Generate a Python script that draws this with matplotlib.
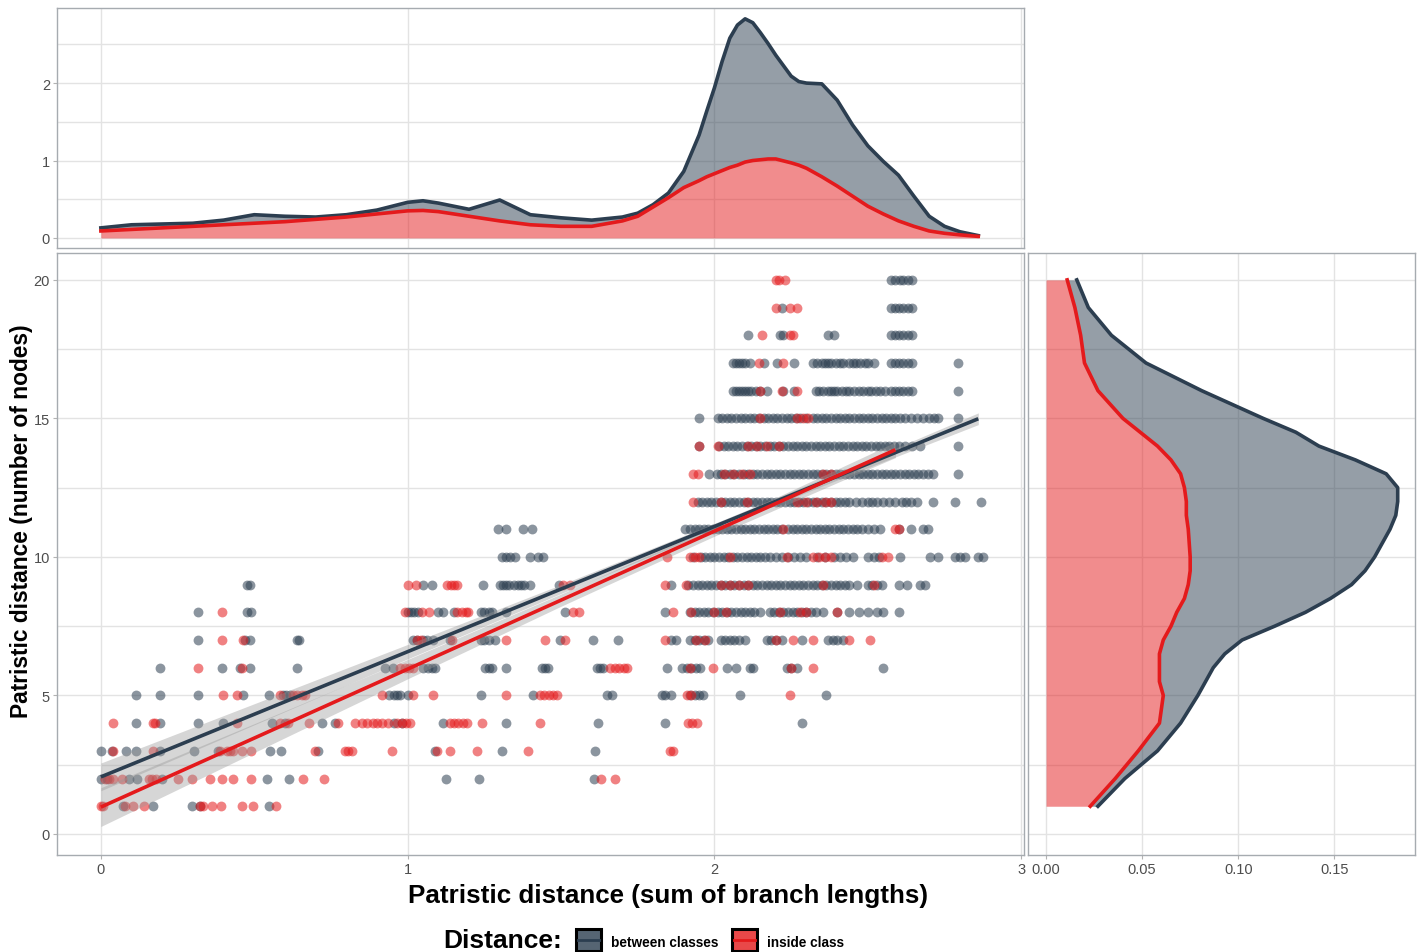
import matplotlib
matplotlib.use("Agg")
import numpy as np
import matplotlib.pyplot as plt
from matplotlib.patches import Rectangle
from matplotlib.lines import Line2D

# ---- scatter points: x values for each integer y (number of nodes) ----
between_rows = {
    20: [2.575, 2.59, 2.605, 2.615, 2.63, 2.645],
    19: [2.22, 2.575, 2.59, 2.60, 2.615, 2.63, 2.645],
    18: [2.11, 2.215, 2.225, 2.37, 2.39, 2.575, 2.59, 2.60, 2.615, 2.63, 2.645],
    17: [2.06, 2.07, 2.08, 2.09, 2.10, 2.115, 2.16, 2.205, 2.26, 2.32, 2.335, 2.35, 2.36, 2.37,
         2.38, 2.395, 2.41, 2.42, 2.44, 2.45, 2.46, 2.475, 2.49, 2.50, 2.52, 2.575, 2.59, 2.60,
         2.615, 2.63, 2.645, 2.795],
    16: [2.06, 2.07, 2.08, 2.09, 2.10, 2.11, 2.12, 2.135, 2.15, 2.17, 2.225, 2.26, 2.33, 2.34,
         2.355, 2.37, 2.38, 2.39, 2.40, 2.415, 2.43, 2.44, 2.455, 2.47, 2.485, 2.50, 2.51, 2.525,
         2.54, 2.555, 2.575, 2.59, 2.60, 2.615, 2.63, 2.645, 2.795],
    15: [1.95, 2.01, 2.025, 2.04, 2.055, 2.07, 2.085, 2.10, 2.115, 2.13, 2.145, 2.16, 2.175, 2.19,
         2.205, 2.22, 2.235, 2.25, 2.265, 2.28, 2.30, 2.32, 2.335, 2.35, 2.365, 2.38, 2.395, 2.41,
         2.425, 2.44, 2.455, 2.47, 2.485, 2.50, 2.515, 2.53, 2.545, 2.56, 2.575, 2.59, 2.605, 2.62,
         2.64, 2.66, 2.68, 2.70, 2.715, 2.73, 2.795],
    14: [1.95, 2.015, 2.03, 2.045, 2.06, 2.075, 2.09, 2.105, 2.12, 2.135, 2.15, 2.165, 2.18, 2.195,
         2.21, 2.225, 2.24, 2.255, 2.27, 2.285, 2.30, 2.315, 2.33, 2.345, 2.36, 2.375, 2.39, 2.405,
         2.42, 2.435, 2.45, 2.465, 2.48, 2.495, 2.51, 2.525, 2.54, 2.555, 2.57, 2.585, 2.60, 2.62,
         2.645, 2.67, 2.795],
    13: [1.982, 2.008, 2.02, 2.035, 2.05, 2.065, 2.08, 2.095, 2.11, 2.125, 2.14, 2.155, 2.17, 2.185,
         2.20, 2.215, 2.23, 2.245, 2.26, 2.275, 2.29, 2.305, 2.32, 2.335, 2.35, 2.365, 2.38, 2.395,
         2.41, 2.425, 2.44, 2.455, 2.47, 2.485, 2.50, 2.515, 2.53, 2.545, 2.56, 2.575, 2.59, 2.605,
         2.62, 2.635, 2.65, 2.665, 2.68, 2.695, 2.713, 2.795],
    12: [1.945, 1.96, 1.975, 1.99, 2.005, 2.02, 2.035, 2.05, 2.065, 2.08, 2.095, 2.11, 2.125, 2.14,
         2.155, 2.17, 2.185, 2.20, 2.215, 2.23, 2.245, 2.26, 2.275, 2.29, 2.305, 2.32, 2.335, 2.35,
         2.365, 2.38, 2.395, 2.41, 2.425, 2.44, 2.46, 2.48, 2.50, 2.515, 2.53, 2.55, 2.57, 2.59,
         2.61, 2.625, 2.64, 2.66, 2.713, 2.785, 2.87],
    11: [1.294, 1.32, 1.376, 1.405, 1.905, 1.92, 1.935, 1.95, 1.965, 1.98, 1.995, 2.01, 2.025, 2.04,
         2.055, 2.07, 2.085, 2.10, 2.115, 2.13, 2.145, 2.16, 2.175, 2.19, 2.205, 2.22, 2.24, 2.257,
         2.27, 2.285, 2.30, 2.315, 2.33, 2.345, 2.36, 2.375, 2.39, 2.405, 2.42, 2.435, 2.45, 2.465,
         2.48, 2.50, 2.52, 2.54, 2.60, 2.64, 2.68, 2.697],
    10: [1.307, 1.32, 1.335, 1.35, 1.399, 1.425, 1.441, 1.93, 1.955, 1.97, 1.985, 2.0, 2.015, 2.03,
         2.045, 2.06, 2.075, 2.09, 2.105, 2.12, 2.135, 2.15, 2.165, 2.18, 2.20, 2.22, 2.24, 2.26,
         2.28, 2.30, 2.335, 2.36, 2.39, 2.41, 2.43, 2.45, 2.50, 2.52, 2.535, 2.605, 2.703, 2.73,
         2.785, 2.80, 2.817, 2.86, 2.875],
    9: [0.476, 0.486, 1.05, 1.079, 1.246, 1.30, 1.31, 1.32, 1.33, 1.345, 1.36, 1.37, 1.38, 1.40,
        1.494, 1.86, 1.914, 1.93, 1.945, 1.96, 1.975, 1.99, 2.005, 2.02, 2.035, 2.05, 2.065, 2.08,
        2.095, 2.11, 2.125, 2.14, 2.155, 2.17, 2.185, 2.20, 2.215, 2.23, 2.245, 2.26, 2.275, 2.29,
        2.305, 2.32, 2.335, 2.35, 2.365, 2.38, 2.395, 2.41, 2.425, 2.44, 2.465, 2.50, 2.515, 2.53,
        2.545, 2.60, 2.627, 2.67, 2.687],
    8: [0.316, 0.476, 0.49, 1.0, 1.01, 1.02, 1.035, 1.10, 1.115, 1.15, 1.24, 1.25, 1.265, 1.275,
        1.32, 1.513, 1.84, 1.92, 1.935, 1.95, 1.965, 1.98, 1.995, 2.01, 2.025, 2.04, 2.055, 2.07,
        2.085, 2.10, 2.115, 2.13, 2.15, 2.18, 2.195, 2.21, 2.225, 2.24, 2.255, 2.27, 2.285, 2.30,
        2.315, 2.33, 2.355, 2.40, 2.44, 2.47, 2.50, 2.53, 2.55, 2.60],
    7: [0.316, 0.47, 0.486, 0.64, 0.645, 1.017, 1.03, 1.05, 1.063, 1.083, 1.138, 1.24, 1.25, 1.265,
        1.285, 1.497, 1.605, 1.686, 1.86, 1.875, 1.92, 1.935, 1.95, 1.965, 1.98, 2.02, 2.035, 2.05,
        2.065, 2.08, 2.10, 2.17, 2.185, 2.20, 2.22, 2.285, 2.37, 2.385, 2.40, 2.42],
    6: [0.192, 0.395, 0.453, 0.486, 0.64, 0.926, 0.952, 1.05, 1.065, 1.079, 1.09, 1.252, 1.265,
        1.275, 1.32, 1.437, 1.447, 1.457, 1.617, 1.627, 1.637, 1.845, 1.894, 1.91, 1.925, 1.94,
        1.953, 2.04, 2.07, 2.116, 2.125, 2.237, 2.25, 2.27, 2.55],
    5: [0.114, 0.192, 0.316, 0.463, 0.548, 0.594, 0.605, 0.616, 0.94, 0.955, 0.965, 0.975, 1.0,
        1.24, 1.409, 1.65, 1.666, 1.83, 1.84, 1.86, 1.92, 1.935, 1.95, 1.963, 2.083, 2.363],
    4: [0.114, 0.192, 0.316, 0.398, 0.557, 0.60, 0.72, 0.763, 0.954, 0.98, 1.115, 1.32, 1.62,
        1.84, 2.285],
    3: [0.0, 0.036, 0.082, 0.114, 0.192, 0.303, 0.382, 0.55, 0.587, 0.707, 1.089, 1.307, 1.61],
    2: [0.0, 0.02, 0.091, 0.117, 0.20, 0.54, 0.612, 1.125, 1.233, 1.607],
    1: [0.072, 0.17, 0.297, 0.323, 0.548],
}

inside_rows = {
    20: [2.2, 2.21, 2.23],
    19: [2.2, 2.247, 2.27],
    18: [2.155, 2.245, 2.257],
    17: [2.145, 2.224],
    16: [2.149, 2.22, 2.27],
    15: [2.149, 2.27, 2.29, 2.305],
    14: [1.95, 2.01, 2.11, 2.14, 2.17, 2.21],
    13: [1.93, 1.947, 2.03, 2.06, 2.09, 2.116, 2.355, 2.38],
    12: [1.93, 2.02, 2.106, 2.27, 2.30, 2.33, 2.36, 2.38],
    11: [2.224, 2.59, 2.60],
    10: [1.845, 1.92, 1.935, 1.95, 2.05, 2.237, 2.32, 2.34, 2.36, 2.38, 2.546, 2.566],
    9: [1.0, 1.027, 1.128, 1.14, 1.15, 1.16, 1.506, 1.53, 1.84, 1.907, 2.02, 2.05, 2.08, 2.11,
        2.355, 2.52],
    8: [0.395, 0.99, 1.047, 1.07, 1.16, 1.177, 1.19, 1.197, 1.54, 1.56, 1.865, 1.924, 2.0, 2.037,
        2.214, 2.28, 2.30, 2.40],
    7: [0.395, 0.463, 1.03, 1.045, 1.144, 1.32, 1.447, 1.513, 1.84, 1.94, 1.97, 2.20, 2.256, 2.32,
        2.44, 2.507],
    6: [0.316, 0.46, 0.975, 0.99, 1.005, 1.017, 1.66, 1.675, 1.69, 1.705, 1.715, 1.92, 1.995,
        2.25, 2.32],
    5: [0.398, 0.443, 0.584, 0.626, 0.64, 0.655, 0.665, 0.916, 1.017, 1.082, 1.32, 1.43, 1.445,
        1.46, 1.475, 1.487, 1.91, 1.925, 2.247],
    4: [0.039, 0.17, 0.175, 0.443, 0.584, 0.61, 0.68, 0.773, 0.828, 0.851, 0.867, 0.887, 0.90,
        0.916, 0.936, 0.965, 0.98, 0.995, 1.007, 1.138, 1.15, 1.165, 1.18, 1.193, 1.242, 1.431,
        1.914, 1.928, 1.943],
    3: [0.039, 0.17, 0.388, 0.41, 0.42, 0.43, 0.46, 0.49, 0.698, 0.795, 0.806, 0.818, 0.949,
        1.095, 1.138, 1.226, 1.392, 1.855, 1.865],
    2: [0.013, 0.027, 0.04, 0.068, 0.156, 0.168, 0.18, 0.25, 0.296, 0.357, 0.394, 0.43, 0.49,
        0.66, 0.727, 1.63, 1.676],
    1: [0.0, 0.007, 0.078, 0.104, 0.14, 0.323, 0.333, 0.362, 0.39, 0.46, 0.496, 0.57],
}

# ---- linear fits (intercept, slope, x range) and confidence half-widths ----
between_fit = (2.06, 4.52, 0.0, 2.86)
inside_fit = (0.97, 4.98, 0.0, 2.59)
ci_x = [0.0, 0.5, 1.0, 1.5, 2.0, 2.5, 2.9]
between_ci = [0.50, 0.38, 0.26, 0.16, 0.11, 0.14, 0.22]
inside_ci = [0.70, 0.52, 0.35, 0.22, 0.18, 0.26, 0.36]

# ---- top marginal density (sum of branch lengths) ----
top_x = [0.0, 0.1, 0.2, 0.3, 0.4, 0.5, 0.6, 0.7, 0.8, 0.9, 1.0, 1.05, 1.1, 1.2, 1.3, 1.4, 1.5,
         1.6, 1.7, 1.75, 1.8, 1.85, 1.9, 1.95, 1.975, 2.0, 2.025, 2.05, 2.075, 2.1, 2.125, 2.15,
         2.175, 2.2, 2.25, 2.275, 2.3, 2.35, 2.4, 2.45, 2.5, 2.55, 2.6, 2.65, 2.7, 2.75, 2.8, 2.86]
top_between = [0.13, 0.17, 0.18, 0.19, 0.23, 0.30, 0.28, 0.27, 0.30, 0.36, 0.46, 0.48, 0.45,
               0.37, 0.49, 0.30, 0.26, 0.23, 0.27, 0.32, 0.43, 0.58, 0.86, 1.33, 1.64, 1.94,
               2.28, 2.58, 2.75, 2.83, 2.78, 2.65, 2.51, 2.36, 2.09, 2.02, 2.0, 1.99, 1.78,
               1.46, 1.19, 0.99, 0.81, 0.54, 0.28, 0.15, 0.08, 0.03]
top_inside = [0.09, 0.11, 0.13, 0.15, 0.17, 0.19, 0.21, 0.24, 0.27, 0.31, 0.35, 0.355, 0.34,
              0.28, 0.22, 0.17, 0.15, 0.15, 0.22, 0.28, 0.40, 0.52, 0.65, 0.74, 0.79, 0.83,
              0.87, 0.91, 0.94, 0.98, 1.0, 1.01, 1.02, 1.02, 0.97, 0.94, 0.90, 0.79, 0.67,
              0.54, 0.41, 0.31, 0.22, 0.15, 0.09, 0.06, 0.04, 0.02]

# ---- right marginal density (number of nodes) ----
right_y = [1, 2, 3, 4, 5, 5.5, 6, 6.5, 7, 7.5, 8, 8.5, 9, 9.5, 10, 11, 11.5, 12, 12.5, 13,
           13.5, 14, 14.5, 15, 16, 17, 18, 19, 20]
right_between = [0.027, 0.041, 0.058, 0.070, 0.079, 0.083, 0.087, 0.093, 0.102, 0.119, 0.135,
                 0.148, 0.159, 0.166, 0.171, 0.179, 0.182, 0.183, 0.183, 0.177, 0.161, 0.142,
                 0.130, 0.113, 0.081, 0.052, 0.034, 0.022, 0.016]
right_inside = [0.023, 0.036, 0.048, 0.059, 0.061, 0.059, 0.059, 0.059, 0.061, 0.065, 0.068,
                0.072, 0.074, 0.075, 0.075, 0.074, 0.073, 0.073, 0.072, 0.070, 0.065, 0.058,
                0.049, 0.040, 0.027, 0.020, 0.018, 0.015, 0.011]

DARK = "#2C3E50"
RED = "#E41A1C"
GRID = "#E3E3E3"
BORDER = "#A6ABB0"
TICK = "#4D4D4D"

plt.rcParams["font.family"] = ["Liberation Sans", "DejaVu Sans"]

W, H = 1419, 953
fig = plt.figure(figsize=(W / 100, H / 100), dpi=100)


def rect(l, t, r, b):
    return [l / W, 1 - b / H, (r - l) / W, (b - t) / H]


def style(ax, xmajor, ymajor, yminor):
    ax.set_xticks(xmajor)
    ax.set_yticks(ymajor)
    ax.set_yticks(yminor, minor=True)
    ax.grid(True, which="major", color=GRID, lw=1.0, zorder=0)
    ax.grid(True, which="minor", axis="y", color=GRID, lw=1.0, zorder=0)
    ax.set_axisbelow(True)
    for s in ax.spines.values():
        s.set_color(BORDER)
        s.set_linewidth(1.0)
    ax.tick_params(which="both", length=3, color="#B3B3B3", labelsize=10.5,
                   labelcolor=TICK, pad=2)
    ax.tick_params(which="minor", length=0)


ax_top = fig.add_axes(rect(57, 9, 1024, 249))
ax_main = fig.add_axes(rect(57, 254, 1024, 856))
ax_right = fig.add_axes(rect(1028, 254, 1415, 856))

yminor = [2.5, 7.5, 12.5, 17.5]

# main scatter
for rows, color in ((between_rows, DARK), (inside_rows, RED)):
    xs, ys = [], []
    for y, row in rows.items():
        xs += row
        ys += [y] * len(row)
    ax_main.scatter(xs, ys, s=50, color=color, alpha=0.55, linewidths=0, zorder=2)

# regression lines with confidence ribbons
for fit, ci, color in ((between_fit, between_ci, DARK), (inside_fit, inside_ci, RED)):
    a, b, x0, x1 = fit
    xx = np.linspace(x0, x1, 60)
    yy = a + b * xx
    hw = np.interp(xx, ci_x, ci)
    ax_main.fill_between(xx, yy - hw, yy + hw, color="#999999", alpha=0.4, lw=0, zorder=3)
    ax_main.plot(xx, yy, color=color, lw=2.6, zorder=4, solid_capstyle="butt")

ax_main.set_xlim(-0.143, 3.009)
ax_main.set_ylim(-0.76, 20.97)
style(ax_main, [0, 1, 2, 3], [0, 5, 10, 15, 20], yminor)

# top density (stacked: grey band sits on top of the red one)
ax_top.fill_between(top_x, top_inside, top_between, color=DARK, alpha=0.5, lw=0, zorder=2)
ax_top.fill_between(top_x, 0, top_inside, color=RED, alpha=0.5, lw=0, zorder=2)
ax_top.plot(top_x, top_between, color=DARK, lw=2.6, zorder=3, solid_joinstyle="round")
ax_top.plot(top_x, top_inside, color=RED, lw=2.6, zorder=3, solid_joinstyle="round")
ax_top.set_xlim(-0.143, 3.009)
ax_top.set_ylim(-0.13, 2.97)
style(ax_top, [0, 1, 2, 3], [0, 1, 2], [0.5, 1.5, 2.5])
ax_top.tick_params(axis="x", labelbottom=False, length=0)

# right density
ax_right.fill_betweenx(right_y, right_inside, right_between, color=DARK, alpha=0.5, lw=0, zorder=2)
ax_right.fill_betweenx(right_y, 0, right_inside, color=RED, alpha=0.5, lw=0, zorder=2)
ax_right.plot(right_between, right_y, color=DARK, lw=2.6, zorder=3, solid_joinstyle="round")
ax_right.plot(right_inside, right_y, color=RED, lw=2.6, zorder=3, solid_joinstyle="round")
ax_right.set_xlim(-0.0094, 0.192)
ax_right.set_ylim(-0.76, 20.97)
style(ax_right, [0, 0.05, 0.10, 0.15], [0, 5, 10, 15, 20], yminor)
ax_right.set_xticklabels(["0.00", "0.05", "0.10", "0.15"])
ax_right.tick_params(axis="y", labelleft=False, length=0)

# axis titles
fig.text(668 / W, 1 - 896 / H, "Patristic distance (sum of branch lengths)",
         ha="center", va="center", fontsize=18.7, fontweight="bold", color="black")
fig.text(22 / W, 1 - 521 / H, "Patristic distance (number of nodes)",
         ha="center", va="center", rotation=90, fontsize=16.4, fontweight="bold", color="black")

# legend
fig.text(443 / W, 1 - 941 / H, "Distance:", ha="left", va="center",
         fontsize=19, fontweight="bold", color="black")
for (kx, label, color) in ((576, "between classes", DARK), (732, "inside class", RED)):
    fig.add_artist(Rectangle((kx / W, 1 - 952 / H), 25 / W, 22 / H, transform=fig.transFigure,
                             facecolor=color, alpha=0.8, edgecolor="none"))
    fig.add_artist(Rectangle((kx / W, 1 - 952 / H), 25 / W, 22 / H, transform=fig.transFigure,
                             facecolor="none", edgecolor="black", lw=2.2))
    fig.add_artist(Line2D([(kx + 2) / W, (kx + 23) / W], [1 - 941 / H, 1 - 941 / H],
                          transform=fig.transFigure, color=color, lw=2.0))
    fig.text((kx + 35) / W, 1 - 943 / H, label, ha="left", va="center",
             fontsize=9.8, fontweight="bold", color="black")

fig.savefig("out.png", dpi=100)
